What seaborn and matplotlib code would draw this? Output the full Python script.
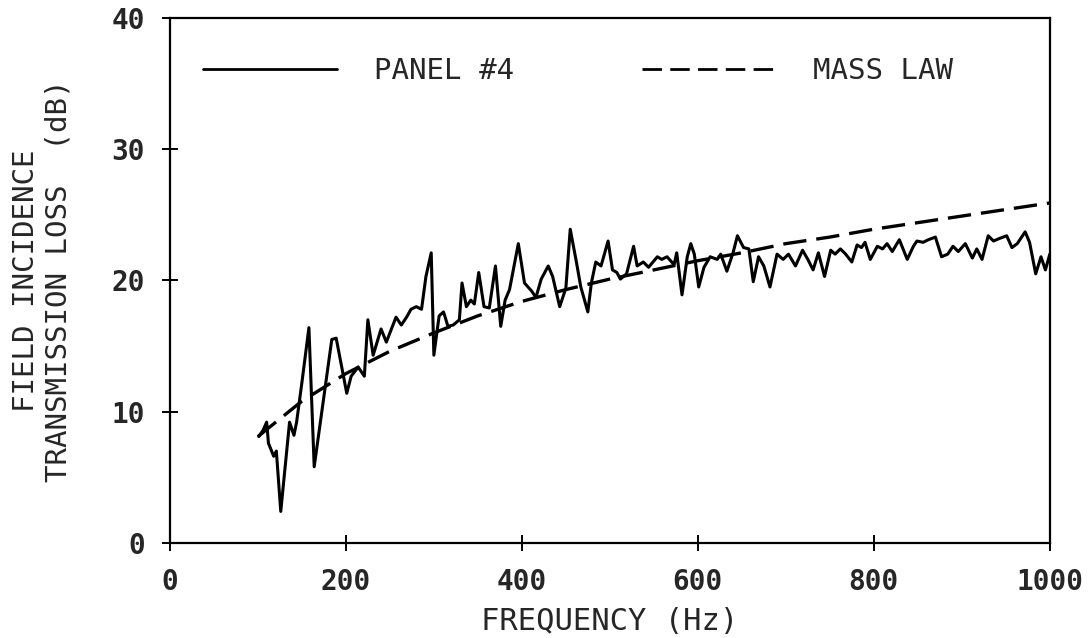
import matplotlib
matplotlib.use("Agg")
import matplotlib.pyplot as plt
import seaborn as sns
import pandas as pd

# ---- data ----
panel_freq = [101, 106, 110, 112, 118, 121, 126, 136, 141, 144, 150, 158, 164, 184, 189,
              201, 206, 214, 221, 225, 231, 240, 246, 257, 263, 269, 274, 280, 286, 291,
              297, 300, 306, 311, 316, 322, 329, 332, 337, 342, 346, 351, 357, 363, 370,
              376, 381, 386, 396, 403, 411, 416, 422, 430, 435, 443, 450, 455, 462, 467,
              475, 479, 484, 490, 498, 503, 508, 512, 519, 527, 531, 538, 544, 549, 554,
              559, 565, 573, 576, 582, 588, 592, 596, 601, 607, 614, 622, 626, 633, 640,
              645, 652, 658, 663, 669, 675, 682, 690, 697, 703, 711, 719, 725, 731, 737,
              744, 751, 756, 762, 768, 775, 781, 786, 790, 796, 804, 810, 815, 821, 829,
              838, 845, 849, 856, 862, 870, 877, 884, 890, 896, 904, 912, 917, 923, 930,
              936, 943, 951, 957, 963, 972, 977, 984, 990, 995, 1000]
panel_tl = [8.1, 8.6, 9.2, 7.6, 6.6, 7.0, 2.4, 9.2, 8.2, 9.2, 12.2, 16.4, 5.8, 15.5, 15.6,
            11.4, 12.7, 13.4, 12.7, 17.0, 14.3, 16.3, 15.3, 17.2, 16.6, 17.2, 17.8, 18.0, 17.8, 20.3,
            22.1, 14.3, 17.3, 17.6, 16.5, 16.6, 17.0, 19.8, 18.0, 18.5, 18.2, 20.6, 18.0, 17.9, 21.1,
            16.5, 18.5, 19.3, 22.8, 19.8, 19.2, 18.7, 20.1, 21.1, 20.3, 18.0, 19.4, 23.9, 21.4, 19.5,
            17.6, 19.8, 21.4, 21.1, 23.0, 20.8, 20.6, 20.1, 20.5, 22.6, 21.1, 21.4, 21.0, 21.4, 21.8,
            21.6, 21.8, 21.2, 22.1, 18.9, 21.8, 22.8, 22.0, 19.5, 21.0, 21.8, 21.6, 22.0, 20.7, 22.1,
            23.4, 22.5, 22.4, 19.9, 21.8, 21.1, 19.5, 22.0, 21.6, 22.0, 21.1, 22.3, 21.6, 20.8, 22.1,
            20.3, 22.3, 22.0, 22.4, 22.0, 21.4, 22.7, 22.5, 22.9, 21.6, 22.6, 22.4, 22.8, 22.2, 23.1,
            21.6, 22.6, 23.0, 22.9, 23.1, 23.3, 21.8, 22.0, 22.6, 22.2, 22.8, 21.7, 22.4, 21.6, 23.4,
            23.0, 23.2, 23.4, 22.5, 22.8, 23.7, 22.9, 20.5, 21.8, 20.8, 22.0]

mass_freq = [100, 150, 200, 250, 300, 350, 400, 450, 500, 550, 600, 650, 700, 750, 800,
             850, 900, 950, 1000]
mass_tl = [8.1, 10.8, 12.9, 14.6, 16.0, 17.3, 18.4, 19.3, 20.1, 20.8, 21.5, 22.1, 22.8,
           23.3, 23.9, 24.4, 24.9, 25.4, 25.9]

x_ticks = [0, 200, 400, 600, 800, 1000]
y_ticks = [0, 10, 20, 30, 40]
series_names = ["PANEL #4", "MASS LAW"]
x_label = "FREQUENCY (Hz)"
y_label = "FIELD INCIDENCE\nTRANSMISSION LOSS  (dB)"

sns.set_theme(style="white")
plt.rcParams['font.family'] = ['DejaVu Sans Mono', 'DejaVu Sans']

panel_df = pd.DataFrame({"f": panel_freq, "tl": panel_tl})
mass_df = pd.DataFrame({"f": mass_freq, "tl": mass_tl})

fig = plt.figure(figsize=(10.89, 6.38), dpi=100)
ax = fig.add_axes([0.156, 0.149, 0.808, 0.823])

sns.lineplot(data=panel_df, x="f", y="tl", ax=ax, color="black", lw=2.2,
             label=series_names[0], estimator=None, sort=False)
sns.lineplot(data=mass_df, x="f", y="tl", ax=ax, color="black", lw=2.4,
             label=series_names[1], estimator=None, sort=False, dashes=False)
ax.lines[1].set_dashes([7, 3])

ax.set_xlim(0, 1000)
ax.set_ylim(0, 40)
ax.set_xticks(x_ticks)
ax.set_yticks(y_ticks)
ax.set_xticklabels([str(v) for v in x_ticks], fontsize=20, fontweight="bold")
ax.set_yticklabels([str(v) for v in y_ticks], fontsize=20, fontweight="bold")
ax.tick_params(axis="x", direction="inout", length=12, width=1.4, color="black",
               bottom=True, top=False, pad=12)
ax.tick_params(axis="y", direction="inout", length=12, width=1.4, color="black",
               left=True, right=False, pad=12)

for s in ax.spines.values():
    s.set_visible(True)
    s.set_color("black")
    s.set_linewidth(1.6)

ax.set_xlabel(x_label, fontsize=22, labelpad=8)
ax.set_ylabel(y_label, fontsize=21, labelpad=28, multialignment="center",
              linespacing=1.2)

leg = ax.legend(loc="upper left", bbox_to_anchor=(0.008, 0.975), ncol=2, frameon=False,
                fontsize=21, handlelength=4.6, handletextpad=1.25, columnspacing=4.4)
for h in leg.get_lines():
    h.set_color("black")
    h.set_linewidth(2.0)
leg.get_lines()[1].set_dashes([7, 3])

fig.savefig("out.png", dpi=100)
